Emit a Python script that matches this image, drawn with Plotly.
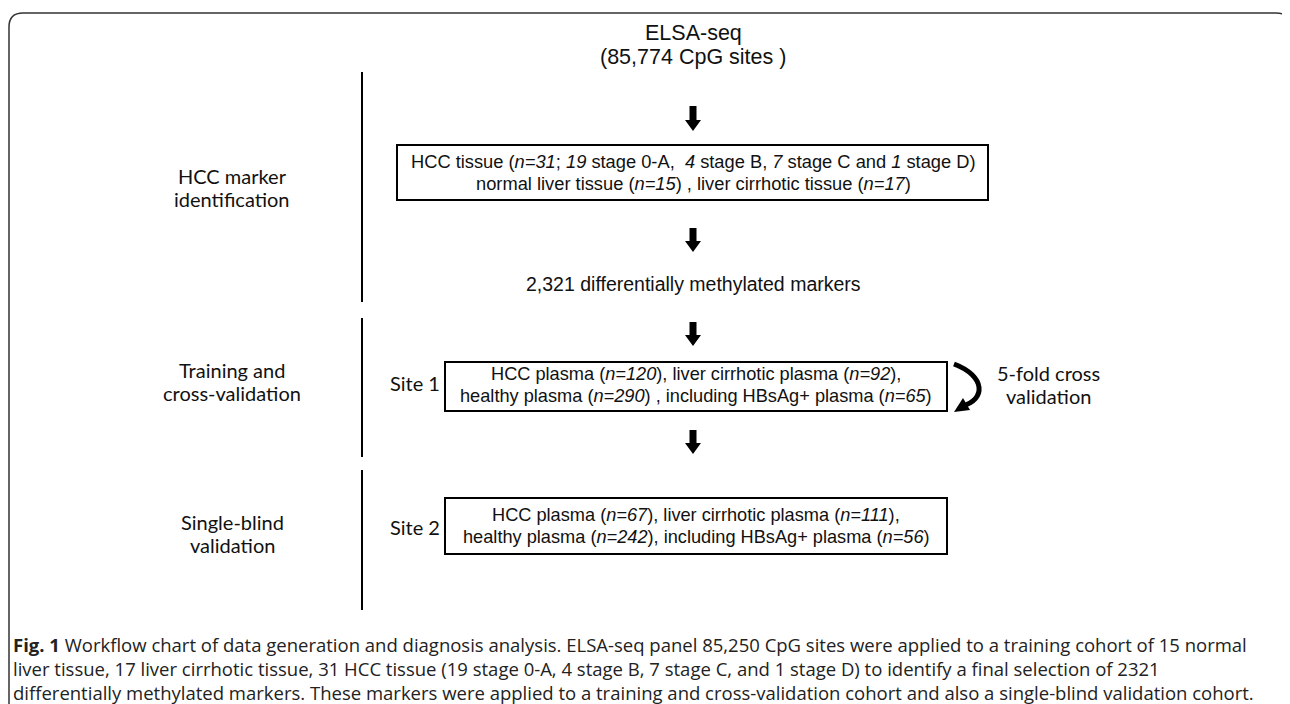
import plotly.graph_objects as go

W, H = 1290, 704
OFF = 8  # page body margin of the browser; shift the data window to compensate

# ---- text content ----
top_title = ["ELSA-seq", "(85,774 CpG sites )"]
box1_lines = [
    "HCC tissue (<i>n=31</i>; <i>19</i> stage 0-A,  <i>4</i> stage B, <i>7</i> stage C and <i>1</i> stage D)",
    "normal liver tissue (<i>n=15</i>) , liver cirrhotic tissue (<i>n=17</i>)",
]
markers_text = "2,321 differentially methylated markers"
box2_lines = [
    "HCC plasma (<i>n=120</i>), liver cirrhotic plasma (<i>n=92</i>),",
    "healthy plasma (<i>n=290</i>) , including HBsAg+ plasma (<i>n=65</i>)",
]
box3_lines = [
    "HCC plasma (<i>n=67</i>), liver cirrhotic plasma (<i>n=111</i>),",
    "healthy plasma (<i>n=242</i>), including HBsAg+ plasma (<i>n=56</i>)",
]
stage_labels = [["HCC marker", "identification"],
                ["Training and", "cross-validation"],
                ["Single-blind", "validation"]]
site_labels = ["Site 1", "Site 2"]
cv_label = ["5-fold cross", "validation"]
caption_lines = [
    "<b>Fig. 1</b> Workflow chart of data generation and diagnosis analysis. ELSA-seq panel 85,250 CpG sites were applied to a training cohort of 15 normal",
    "liver tissue, 17 liver cirrhotic tissue, 31 HCC tissue (19 stage 0-A, 4 stage B, 7 stage C, and 1 stage D) to identify a final selection of 2321",
    "differentially methylated markers. These markers were applied to a training and cross-validation cohort and also a single-blind validation cohort.",
]

# ---- layout geometry (pixel space) ----
CX = 693
ARIAL = "Liberation Sans"
HUMAN = "Lato, Open Sans"
CAPF = "Open Sans"
INK = "#111111"

fig = go.Figure()
shapes = []
annos = []

def txt(x, y, s, size, family, xanchor="center", color=INK, align="center"):
    annos.append(dict(x=x, y=y, xref="x", yref="y", text=s, showarrow=False,
                      xanchor=xanchor, yanchor="middle", align=align,
                      font=dict(size=size, family=family, color=color)))

def down_arrow(yt, yb):
    sw, hw, hh = 3.5, 8, 11
    p = (f"M {CX-sw} {yt} L {CX+sw} {yt} L {CX+sw} {yb-hh} L {CX+hw} {yb-hh} "
         f"L {CX} {yb} L {CX-hw} {yb-hh} L {CX-sw} {yb-hh} Z")
    shapes.append(dict(type="path", path=p, xref="x", yref="y",
                       fillcolor="#000", line=dict(width=0)))

def box(x0, y0, x1, y1):
    shapes.append(dict(type="rect", x0=x0, y0=y0, x1=x1, y1=y1, xref="x", yref="y",
                       line=dict(color="#000", width=2), fillcolor="rgba(0,0,0,0)"))

def vline(x, y0, y1):
    shapes.append(dict(type="line", x0=x, x1=x, y0=y0, y1=y1, xref="x", yref="y",
                       line=dict(color="#000", width=2)))

# outer frame
shapes.append(dict(type="path", xref="x", yref="y",
                   path="M 9 720 L 9 27 Q 9 13 23 13 L 1276 13 Q 1287 13 1290 21",
                   line=dict(color="#333", width=1.5)))

# title
txt(CX, 33, top_title[0], 21.5, ARIAL)
txt(CX, 57, top_title[1], 21.5, ARIAL)
down_arrow(106, 131)

# box 1
box(397, 145, 988, 200)
txt(CX, 161, box1_lines[0], 18.3, ARIAL)
txt(CX, 183, box1_lines[1], 18.3, ARIAL)
down_arrow(228, 252)

txt(CX, 284, markers_text, 19.5, ARIAL)
down_arrow(322, 346)

# box 2
box(445, 362, 947, 411)
txt(696, 374, box2_lines[0], 18.2, ARIAL)
txt(696, 396, box2_lines[1], 18.2, ARIAL)
down_arrow(430, 454)

# box 3
box(445, 498, 947, 554)
txt(696, 515, box3_lines[0], 18.2, ARIAL)
txt(696, 537, box3_lines[1], 18.2, ARIAL)

# left stage separators
vline(362, 72, 302)
vline(362, 318, 457)
vline(362, 470, 610)

# stage labels
stage_y = [(176, 199), (370, 393), (522, 545)]
for (l1, l2), (y1, y2) in zip(stage_labels, stage_y):
    txt(232, y1, l1, 20, HUMAN)
    txt(232, y2, l2, 20, HUMAN)

# site labels
txt(415, 383, site_labels[0], 20, HUMAN)
txt(415, 527, site_labels[1], 20, HUMAN)

# curved cross-validation arrow
shapes.append(dict(type="path", xref="x", yref="y",
                   path="M 954 364 C 986 376, 986 400, 962 406",
                   line=dict(color="#000", width=5)))
shapes.append(dict(type="path", xref="x", yref="y",
                   path="M 954 412 L 963 398 L 970 410 Z",
                   fillcolor="#000", line=dict(width=0)))
txt(1048, 373, cv_label[0], 20, HUMAN)
txt(1048, 396, cv_label[1], 20, HUMAN)

# caption (one block so line spacing stays consistent)
txt(11, 668, "<br>".join(caption_lines), 18.5, CAPF, xanchor="left",
    color="#222", align="left")

fig.update_layout(
    width=W, height=H, margin=dict(l=0, r=0, t=0, b=0),
    paper_bgcolor="white", plot_bgcolor="white",
    xaxis=dict(range=[OFF, W + OFF], visible=False, fixedrange=True),
    yaxis=dict(range=[H + OFF, OFF], visible=False, fixedrange=True),
    shapes=shapes, annotations=annos, showlegend=False,
)
fig.write_html("out.html")
